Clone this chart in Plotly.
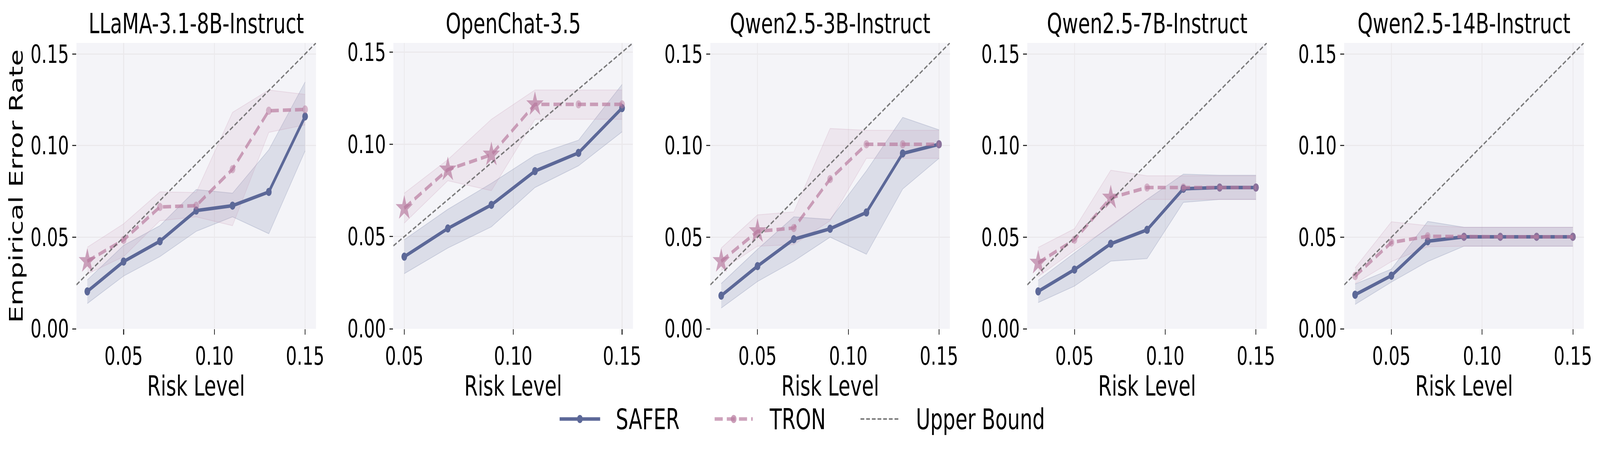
import plotly.graph_objects as go

# ---------------- data ----------------
models = ["LLaMA-3.1-8B-Instruct", "OpenChat-3.5", "Qwen2.5-3B-Instruct",
          "Qwen2.5-7B-Instruct", "Qwen2.5-14B-Instruct"]
risk_levels = [0.03, 0.05, 0.07, 0.09, 0.11, 0.13, 0.15]
risk_levels_openchat = [0.05, 0.07, 0.09, 0.11, 0.13, 0.15]
y_ticks = [0.00, 0.05, 0.10, 0.15]
x_ticks = [0.05, 0.10, 0.15]

llama_safer = [0.0204, 0.0367, 0.0478, 0.0645, 0.0672, 0.0747, 0.1159]
llama_safer_lo = [0.0138, 0.0288, 0.0394, 0.0532, 0.0611, 0.0519, 0.0971]
llama_safer_hi = [0.0267, 0.0455, 0.0563, 0.0760, 0.0740, 0.0977, 0.1347]
llama_tron = [0.0369, 0.0485, 0.0665, 0.0672, 0.0871, 0.1190, 0.1197]
llama_tron_lo = [0.0299, 0.0394, 0.0590, 0.0611, 0.0563, 0.1072, 0.1113]
llama_tron_hi = [0.0445, 0.0573, 0.0747, 0.0744, 0.1181, 0.1303, 0.1279]

openchat_safer = [0.0391, 0.0544, 0.0672, 0.0855, 0.0954, 0.1197]
openchat_safer_lo = [0.0299, 0.0438, 0.0553, 0.0766, 0.0884, 0.1068]
openchat_safer_hi = [0.0483, 0.0648, 0.0789, 0.0942, 0.1023, 0.1325]
openchat_tron = [0.0654, 0.0863, 0.0944, 0.1217, 0.1217, 0.1217]
openchat_tron_lo = [0.0573, 0.0803, 0.0749, 0.1136, 0.1136, 0.1136]
openchat_tron_hi = [0.0735, 0.0917, 0.1136, 0.1295, 0.1295, 0.1295]

qwen3b_safer = [0.0181, 0.0342, 0.0489, 0.0546, 0.0635, 0.0957, 0.1007]
qwen3b_safer_lo = [0.0113, 0.0258, 0.0369, 0.0500, 0.0407, 0.0763, 0.0930]
qwen3b_safer_hi = [0.0247, 0.0434, 0.0611, 0.0597, 0.0862, 0.1154, 0.1086]
qwen3b_tron = [0.0369, 0.0532, 0.0550, 0.0817, 0.1007, 0.1007, 0.1007]
qwen3b_tron_lo = [0.0319, 0.0451, 0.0459, 0.0590, 0.0930, 0.0930, 0.0930]
qwen3b_tron_hi = [0.0441, 0.0622, 0.0638, 0.1093, 0.1083, 0.1083, 0.1083]

qwen7b_safer = [0.0204, 0.0323, 0.0464, 0.0540, 0.0764, 0.0771, 0.0771]
qwen7b_safer_lo = [0.0143, 0.0233, 0.0369, 0.0383, 0.0690, 0.0706, 0.0706]
qwen7b_safer_hi = [0.0265, 0.0414, 0.0563, 0.0706, 0.0844, 0.0838, 0.0838]
qwen7b_tron = [0.0360, 0.0486, 0.0715, 0.0771, 0.0771, 0.0771, 0.0771]
qwen7b_tron_lo = [0.0285, 0.0428, 0.0557, 0.0706, 0.0706, 0.0706, 0.0706]
qwen7b_tron_hi = [0.0444, 0.0546, 0.0865, 0.0835, 0.0835, 0.0835, 0.0835]

qwen14b_safer = [0.0186, 0.0290, 0.0478, 0.0502, 0.0502, 0.0502, 0.0502]
qwen14b_safer_lo = [0.0133, 0.0255, 0.0367, 0.0451, 0.0451, 0.0451, 0.0451]
qwen14b_safer_hi = [0.0244, 0.0326, 0.0586, 0.0554, 0.0554, 0.0554, 0.0554]
qwen14b_tron = [0.0288, 0.0471, 0.0505, 0.0502, 0.0502, 0.0502, 0.0502]
qwen14b_tron_lo = [0.0247, 0.0367, 0.0448, 0.0451, 0.0451, 0.0451, 0.0451]
qwen14b_tron_hi = [0.0333, 0.0584, 0.0563, 0.0554, 0.0554, 0.0554, 0.0554]

panels = [
    (models[0], risk_levels, llama_safer, llama_safer_lo, llama_safer_hi, llama_tron, llama_tron_lo, llama_tron_hi),
    (models[1], risk_levels_openchat, openchat_safer, openchat_safer_lo, openchat_safer_hi, openchat_tron, openchat_tron_lo, openchat_tron_hi),
    (models[2], risk_levels, qwen3b_safer, qwen3b_safer_lo, qwen3b_safer_hi, qwen3b_tron, qwen3b_tron_lo, qwen3b_tron_hi),
    (models[3], risk_levels, qwen7b_safer, qwen7b_safer_lo, qwen7b_safer_hi, qwen7b_tron, qwen7b_tron_lo, qwen7b_tron_hi),
    (models[4], risk_levels, qwen14b_safer, qwen14b_safer_lo, qwen14b_safer_hi, qwen14b_tron, qwen14b_tron_lo, qwen14b_tron_hi),
]

# ---------------- style ----------------
W, H = 5924, 1178
FONT = "DejaVu Sans"
SAFER_C = "#5c6898"
SAFER_FILL = "rgba(92,104,152,0.16)"
SAFER_EDGE = "rgba(92,104,152,0.22)"
TRON_LINE = "rgba(185,124,160,0.70)"
TRON_DOT = "rgba(185,124,160,0.72)"
TRON_STAR = "rgba(182,118,156,0.95)"
TRON_FILL = "rgba(196,139,172,0.13)"
TRON_EDGE = "rgba(196,139,172,0.22)"
BOUND_C = "rgba(90,90,90,0.8)"
BG = "#f4f4f8"
GRID = "#ebe9ec"
TICK_C = "#333333"

plot_top, plot_bot = 110, 842
left0, step, pw = 283, 1173.5, 887

fig = go.Figure()
annotations = []
shapes = []

for i, (name, xs, s, slo, shi, t, tlo, thi) in enumerate(panels):
    ax = "" if i == 0 else str(i + 1)
    xref, yref = "x" + ax, "y" + ax
    span = xs[-1] - xs[0]
    lo_lim, hi_lim = xs[0] - 0.05 * span, xs[-1] + 0.05 * span

    fig.add_trace(go.Scatter(x=xs, y=slo, mode="lines", line=dict(color=SAFER_EDGE, width=2),
                             xaxis=xref, yaxis=yref, showlegend=False, hoverinfo="skip"))
    fig.add_trace(go.Scatter(x=xs, y=shi, mode="lines", line=dict(color=SAFER_EDGE, width=2),
                             fill="tonexty", fillcolor=SAFER_FILL,
                             xaxis=xref, yaxis=yref, showlegend=False, hoverinfo="skip"))
    fig.add_trace(go.Scatter(x=xs, y=tlo, mode="lines", line=dict(color=TRON_EDGE, width=2),
                             xaxis=xref, yaxis=yref, showlegend=False, hoverinfo="skip"))
    fig.add_trace(go.Scatter(x=xs, y=thi, mode="lines", line=dict(color=TRON_EDGE, width=2),
                             fill="tonexty", fillcolor=TRON_FILL,
                             xaxis=xref, yaxis=yref, showlegend=False, hoverinfo="skip"))
    fig.add_trace(go.Scatter(x=xs, y=s, mode="lines+markers", name="SAFER",
                             line=dict(color=SAFER_C, width=9),
                             marker=dict(color=SAFER_C, size=21, symbol="circle"),
                             xaxis=xref, yaxis=yref, showlegend=False))
    over = [v > r for v, r in zip(t, xs)]
    fig.add_trace(go.Scatter(x=xs, y=t, mode="lines+markers", name="TRON",
                             line=dict(color=TRON_LINE, width=9, dash="30px,15px"),
                             marker=dict(color=[TRON_STAR if o else TRON_DOT for o in over],
                                         size=[48 if o else 21 for o in over],
                                         symbol=["star" if o else "circle" for o in over],
                                         line=dict(width=0)),
                             xaxis=xref, yaxis=yref, showlegend=False))
    fig.add_trace(go.Scatter(x=[lo_lim, hi_lim], y=[lo_lim, hi_lim], mode="lines", name="Upper Bound",
                             line=dict(color=BOUND_C, width=4, dash="14px,7px"),
                             xaxis=xref, yaxis=yref, showlegend=False, hoverinfo="skip"))

    x0 = (left0 + i * step) / W
    x1 = (left0 + i * step + pw) / W
    common = dict(showline=False, zeroline=False, showgrid=True, gridcolor=GRID, gridwidth=3,
                  ticks="outside", ticklen=14, tickwidth=3, tickcolor=TICK_C, automargin=False,
                  tickfont=dict(family=FONT, size=64, color="black"), tickformat=".2f")
    fig.update_layout(**{
        "xaxis" + ax: dict(domain=[x0, x1], range=[lo_lim, hi_lim], tickvals=x_ticks,
                           anchor=yref, **common),
        "yaxis" + ax: dict(domain=[1 - plot_bot / H, 1 - plot_top / H], range=[0, hi_lim],
                           tickvals=y_ticks, anchor=xref, **common),
    })
    cx = (x0 + x1) / 2
    annotations.append(dict(text=name, x=cx, y=1 - 60 / H, xref="paper", yref="paper",
                            xanchor="center", yanchor="middle", showarrow=False,
                            font=dict(family=FONT, size=72, color="black")))
    annotations.append(dict(text="Risk Level", x=cx, y=1 - 988 / H, xref="paper", yref="paper",
                            xanchor="center", yanchor="middle", showarrow=False,
                            font=dict(family=FONT, size=72, color="black")))

annotations.append(dict(text="Empirical Error Rate", x=60 / W, y=1 - 477 / H, xref="paper", yref="paper",
                        xanchor="center", yanchor="middle", showarrow=False, textangle=-90,
                        font=dict(family=FONT, size=70, color="black")))

# ---------------- legend (drawn in paper space) ----------------
ly = 1 - 1073 / H
legend_items = [
    ("SAFER", 2072, 2222, 2278, dict(color=SAFER_C, width=9), SAFER_C),
    ("TRON", 2646, 2787, 2847, dict(color=TRON_LINE, width=9, dash="30px,15px"), TRON_DOT),
    ("Upper Bound", 3186, 3328, 3389, dict(color=BOUND_C, width=4, dash="14px,7px"), None),
]
for label, a, b, tx, ln, mc in legend_items:
    shapes.append(dict(type="line", xref="paper", yref="paper", x0=a / W, x1=b / W, y0=ly, y1=ly, line=ln))
    if mc:
        c = (a + b) / 2
        shapes.append(dict(type="circle", xref="paper", yref="paper",
                           x0=(c - 10.5) / W, x1=(c + 10.5) / W, y0=ly - 10.5 / H, y1=ly + 10.5 / H,
                           fillcolor=mc, line=dict(width=0)))
    annotations.append(dict(text=label, x=tx / W, y=ly, xref="paper", yref="paper",
                            xanchor="left", yanchor="middle", showarrow=False,
                            font=dict(family=FONT, size=73, color="black")))

fig.update_layout(width=W, height=H, margin=dict(l=0, r=0, t=0, b=0),
                  paper_bgcolor="white", plot_bgcolor=BG, showlegend=False,
                  annotations=annotations, shapes=shapes,
                  font=dict(family=FONT, color="black"))

# The browser may offer a narrower viewport than the figure; map the figure onto it.
fit_js = """
document.documentElement.style.cssText='margin:0;padding:0;overflow:hidden';
document.body.style.cssText='margin:0;padding:0;overflow:hidden;width:100vw;height:100vh';
var gd=document.getElementsByClassName('plotly-graph-div')[0];
var host=gd.parentElement;
var sx=Math.min(1, window.innerWidth/%d), sy=Math.min(1, window.innerHeight/%d);
host.style.transformOrigin='0 0';
host.style.transform='scale('+sx+','+sy+')';
""" % (W, H)

fig.write_html("out.html", post_script=fit_js, config={"displayModeBar": False})
